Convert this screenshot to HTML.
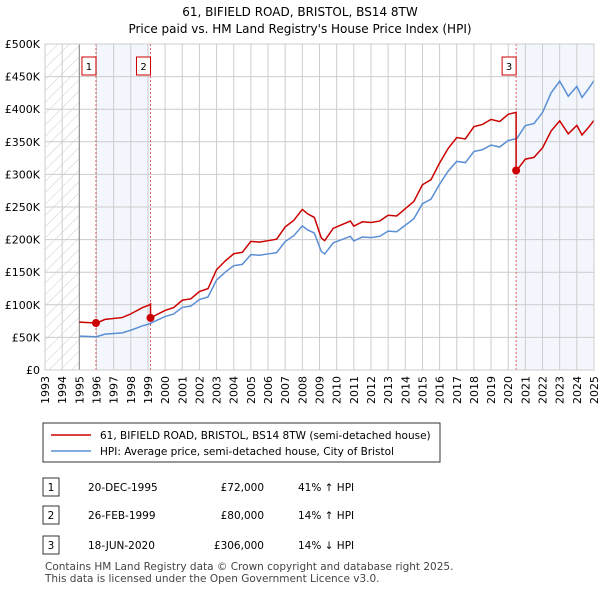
<!DOCTYPE html>
<html><head><meta charset="utf-8"><style>
body{margin:0;background:#fff;font-family:"DejaVu Sans","Liberation Sans",sans-serif;}
svg text{font-family:"DejaVu Sans","Liberation Sans",sans-serif;}
</style></head><body>
<svg id="c" width="600" height="590" xmlns="http://www.w3.org/2000/svg">
<defs><pattern id="h" width="8" height="8" patternUnits="userSpaceOnUse" patternTransform="rotate(45)"><line x1="0" y1="0" x2="0" y2="8" stroke="#ccc" stroke-width="1"/></pattern></defs>
<text x="300" y="16" text-anchor="middle" font-size="12">61, BIFIELD ROAD, BRISTOL, BS14 8TW</text>
<text x="300" y="33" text-anchor="middle" font-size="12">Price paid vs. HM Land Registry's House Price Index (HPI)</text>
<g id="plot"></g>
<g>
<rect x="43" y="423" width="397" height="39" fill="#fff" stroke="#333"/>
<line x1="51" y1="435" x2="91" y2="435" stroke="#cc0000" stroke-width="1.5"/>
<text x="100" y="439" font-size="10.5">61, BIFIELD ROAD, BRISTOL, BS14 8TW (semi-detached house)</text>
<line x1="51" y1="451" x2="91" y2="451" stroke="#5b8fd4" stroke-width="1.5"/>
<text x="100" y="455" font-size="10.5">HPI: Average price, semi-detached house, City of Bristol</text>
</g>
<g id="tbl" font-size="10.5"></g>
<text x="45" y="570" font-size="10.5" fill="#444">Contains HM Land Registry data © Crown copyright and database right 2025.</text>
<text x="45" y="582" font-size="10.5" fill="#444">This data is licensed under the Open Government Licence v3.0.</text>
</svg>
<script>
const hpiYears=[1995,1996,1996.5,1997.5,1998,1998.7,1999,2000,2000.5,2001,2001.5,2002,2002.5,2003,2003.5,2004,2004.5,2005,2005.5,2006,2006.5,2007,2007.5,2008,2008.3,2008.7,2009.1,2009.3,2009.8,2010.3,2010.8,2011,2011.5,2012,2012.5,2013,2013.5,2014,2014.5,2015,2015.5,2016,2016.5,2017,2017.5,2018,2018.5,2019,2019.5,2020,2020.5,2021,2021.5,2022,2022.5,2023,2023.5,2024,2024.3,2024.7,2025];
const hpiValues=[52,51,55,57,61,68,70,82,86,96,98,108,112,138,150,160,162,177,176,178,180,197,206,221,215,210,182,178,195,200,205,198,204,203,205,213,212,222,232,255,262,285,305,320,318,335,338,345,342,352,355,375,378,395,425,443,420,435,418,432,444];
const saleDates=[1995.97,1999.15,2020.46];
const salePrices=[72,80,306];
const saleLabels=["1","2","3"];
const saleDateText=["20-DEC-1995","26-FEB-1999","18-JUN-2020"];
const salePriceText=["£72,000","£80,000","£306,000"];
const saleHpiText=["41% ↑ HPI","14% ↑ HPI","14% ↓ HPI"];
const yTicks=[0,50,100,150,200,250,300,350,400,450,500];
const yTickLabels=["£0","£50K","£100K","£150K","£200K","£250K","£300K","£350K","£400K","£450K","£500K"];
const xTicks=[1993,1994,1995,1996,1997,1998,1999,2000,2001,2002,2003,2004,2005,2006,2007,2008,2009,2010,2011,2012,2013,2014,2015,2016,2017,2018,2019,2020,2021,2022,2023,2024,2025];

const X0=45,X1=594,Y0=370,Y1=44;
const x=v=>X0+(v-1993)/(2025-1993)*(X1-X0);
const y=v=>Y0-v/500*(Y0-Y1);
const NS="http://www.w3.org/2000/svg";
const g=document.getElementById('plot');
function mk(t,a,p){const e=document.createElementNS(NS,t);for(const k in a)e.setAttribute(k,a[k]);(p||g).appendChild(e);return e;}
function hpiAt(t){for(let i=0;i<hpiYears.length-1;i++){if(t<=hpiYears[i+1]){const f=(t-hpiYears[i])/(hpiYears[i+1]-hpiYears[i]);return hpiValues[i]+f*(hpiValues[i+1]-hpiValues[i]);}}return hpiValues[hpiValues.length-1];}
// backgrounds
let e=mk('rect',{x:x(1993),y:Y1,width:x(1995)-x(1993),height:Y0-Y1,fill:'url(#h)'});

e=mk('rect',{x:x(saleDates[0]),y:Y1,width:x(saleDates[1])-x(saleDates[0]),height:Y0-Y1,fill:'#eef3fc',opacity:0.7});

e=mk('rect',{x:x(saleDates[2]),y:Y1,width:X1-x(saleDates[2]),height:Y0-Y1,fill:'#eef3fc',opacity:0.7});

// grid
xTicks.forEach((t,i)=>{const l=mk('line',{x1:x(t),x2:x(t),y1:Y1,y2:Y0,stroke:'#ccc'});

const tx=mk('text',{x:0,y:0,'font-size':11,'text-anchor':'end',transform:`translate(${x(t)+4},${Y0+6}) rotate(-90)`});tx.textContent=t;
});
yTicks.forEach((t,i)=>{const l=mk('line',{x1:X0,x2:X1,y1:y(t),y2:y(t),stroke:'#ccc'});

const tx=mk('text',{x:40,y:y(t)+4,'font-size':11,'text-anchor':'end'});tx.textContent=yTickLabels[i];
});
e=mk('line',{x1:x(1995),x2:x(1995),y1:Y1,y2:Y0,stroke:'#888'});

// sale lines
saleDates.forEach((d,i)=>{const l=mk('line',{x1:x(d),x2:x(d),y1:Y1,y2:Y0,stroke:'#e06060','stroke-dasharray':'2,2'});

const b=mk('rect',{x:x(d)-14,y:57,width:14,height:18,fill:'#fff',stroke:'#cc0000'});

const t=mk('text',{x:x(d)-7,y:70,'font-size':10,'text-anchor':'middle'});t.textContent=saleLabels[i];
});
// hpi line
let pts=hpiYears.map((t,i)=>x(t)+','+y(hpiValues[i])).join(' ');
e=mk('polyline',{points:pts,fill:'none',stroke:'#5b8fd4','stroke-width':1.5});

// red line: property value indexed from last sale
let rp=[];
function seg(a,b,k){const ratio=salePrices[k]/hpiAt(saleDates[k]);let ts=[a,...hpiYears.filter(t=>t>a&&t<b),b];ts.forEach(t=>rp.push(x(t)+','+y(hpiAt(t)*ratio)));}
seg(1995,saleDates[0],0);
seg(saleDates[0],saleDates[1],0);
seg(saleDates[1],saleDates[2],1);
seg(saleDates[2],2025,2);
e=mk('polyline',{points:rp.join(' '),fill:'none',stroke:'#cc0000','stroke-width':1.5});

saleDates.forEach((d,i)=>{const c=mk('circle',{cx:x(d),cy:y(salePrices[i]),r:4,fill:'#cc0000'});
});
e=mk('rect',{x:X0,y:Y1,width:X1-X0,height:Y0-Y1,fill:'none',stroke:'#ccc'});

// table
const tb=document.getElementById('tbl');
const rowY=[488,516,546];
saleLabels.forEach((l,i)=>{const r=mk('rect',{x:43,y:rowY[i]-10,width:16,height:18,fill:'#fff',stroke:'#333'},tb);

const cells=[[51,l,'middle'],[88,saleDateText[i],'start'],[264,salePriceText[i],'end'],[298,saleHpiText[i],'start']];
cells.forEach((c,j)=>{const t=mk('text',{x:c[0],y:rowY[i]+3,'text-anchor':c[2]},tb);t.textContent=c[1];
});});
</script>
</body></html>
